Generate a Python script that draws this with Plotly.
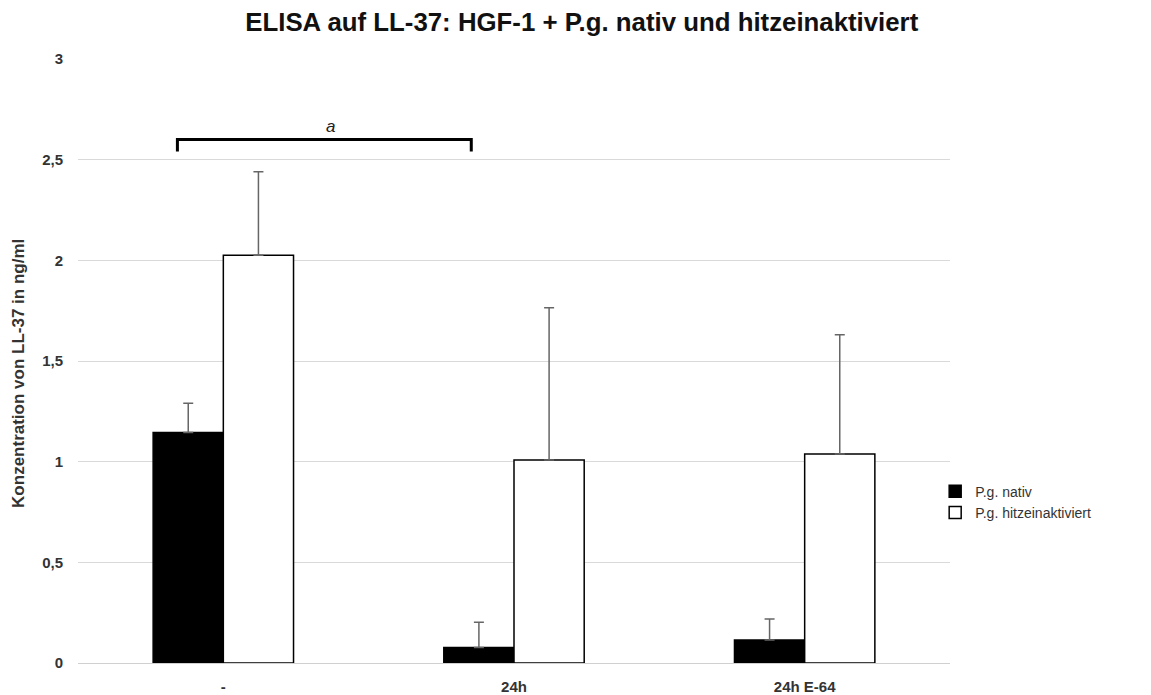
import plotly.graph_objects as go

categories = ["-", "24h", "24h E-64"]
nativ = [1.145, 0.077, 0.114]
nativ_err = [0.145, 0.125, 0.105]
hitze = [2.025, 1.008, 1.038]
hitze_err = [0.415, 0.757, 0.592]
y_ticks = [0, 0.5, 1, 1.5, 2, 2.5, 3]
y_ticklabels = ["0", "0,5", "1", "1,5", "2", "2,5", "3"]

FONT = "Liberation Sans, Arial, sans-serif"

fig = go.Figure()
fig.add_trace(go.Bar(
    x=categories, y=nativ, name="P.g. nativ",
    marker=dict(color="black", line=dict(color="black", width=1.5)),
    error_y=dict(type="data", array=nativ_err, arrayminus=[0]*3, symmetric=False,
                 color="#666666", thickness=1.5, width=5),
))
fig.add_trace(go.Bar(
    x=categories, y=hitze, name="P.g. hitzeinaktiviert",
    marker=dict(color="white", line=dict(color="black", width=1.5)),
    error_y=dict(type="data", array=hitze_err, arrayminus=[0]*3, symmetric=False,
                 color="#666666", thickness=1.5, width=5),
))

# significance bracket between "-" and "24h"
bx0, bx1, by_top, by_end = -0.158, 0.853, 2.60, 2.54
fig.add_shape(type="path", xref="x", yref="y",
              path=f"M {bx0} {by_end} L {bx0} {by_top} L {bx1} {by_top} L {bx1} {by_end}",
              line=dict(color="black", width=3))
fig.add_annotation(x=0.367, y=2.665, xref="x", yref="y", text="<i>a</i>", showarrow=False,
                   font=dict(family=FONT, size=17, color="#222"))

fig.add_annotation(x=-0.069, y=0.48, xref="paper", yref="paper", textangle=-90,
                   text="<b>Konzentration von LL-37 in ng/ml</b>", showarrow=False,
                   xanchor="center", yanchor="middle",
                   font=dict(family=FONT, size=17, color="#333"))

# page has an 8px body margin, so the figure is shifted by 8px; compensate
fig.update_layout(
    width=1143, height=687,
    margin=dict(l=70, r=201, t=51, b=32, autoexpand=False),
    paper_bgcolor="white", plot_bgcolor="white",
    barmode="group", bargap=0.517, bargroupgap=0,
    title=dict(text="<b>ELISA auf LL-37: HGF-1 + P.g. nativ und hitzeinaktiviert</b>",
               x=0.502, xanchor="center", y=0.98, yanchor="middle",
               font=dict(family=FONT, size=25.8, color="#111")),
    font=dict(family=FONT, color="#333"),
    legend=dict(x=0.983, xanchor="left", y=0.31, yanchor="top",
                font=dict(family=FONT, size=14, color="#333"),
                bgcolor="rgba(0,0,0,0)",
                itemwidth=30, tracegroupgap=0),
    showlegend=True,
)
fig.update_xaxes(showgrid=False, showline=False, ticks="", automargin=False,
                 tickvals=categories, ticktext=[f"<b>{c}</b>" for c in categories],
                 tickfont=dict(family=FONT, size=15, color="#333"),
                 ticklabelstandoff=13)
fig.update_yaxes(range=[0, 3], tickvals=y_ticks, automargin=False,
                 ticktext=[f"<b>{t}</b>" for t in y_ticklabels],
                 showgrid=True, gridcolor="#d9d9d9", gridwidth=1,
                 zeroline=True, zerolinecolor="#d0d0d0", zerolinewidth=1,
                 showline=False, ticks="",
                 tickfont=dict(family=FONT, size=15, color="#333"),
                 ticklabelstandoff=14)

fig.write_html("out.html")
